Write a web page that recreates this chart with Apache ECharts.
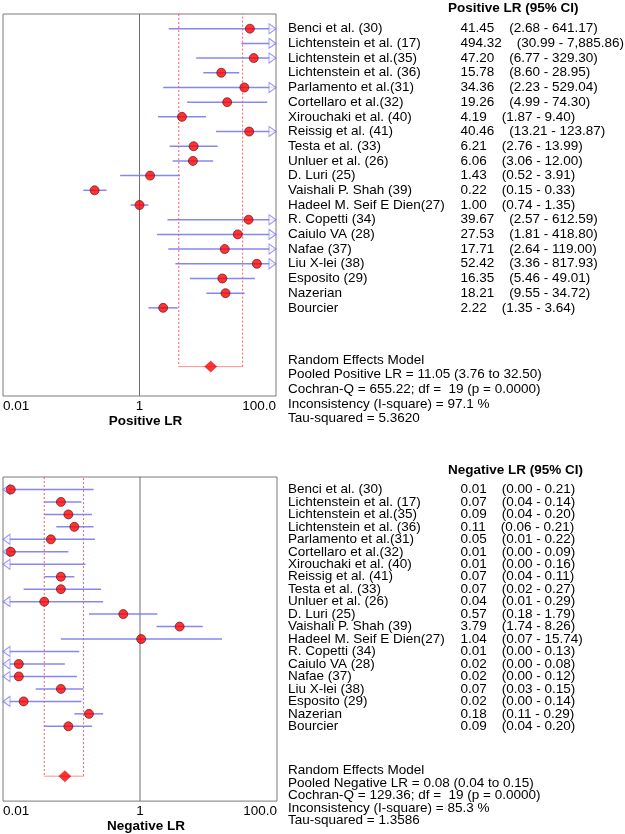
<!DOCTYPE html>
<html>
<head>
<meta charset="UTF-8">
<title>Forest plot</title>
<style>
	* { margin: 0; padding: 0; }
	html, body { width: 100%; height: 100%; background: #fff; overflow: hidden; }
	#chart { width: 625px; height: 834px; }
</style>
</head>
<body>
<div id="chart"></div>
<script src="https://cdn.jsdelivr.net/npm/echarts@6/dist/echarts.min.js"></script>
<script>
	var studies = ['Benci et al. (30)', 'Lichtenstein et al. (17)', 'Lichtenstein et al.(35)', 'Lichtenstein et al. (36)',
		'Parlamento et al.(31)', 'Cortellaro et al.(32)', 'Xirouchaki et al. (40)', 'Reissig et al. (41)',
		'Testa et al. (33)', 'Unluer et al. (26)', 'D. Luri (25)', 'Vaishali P. Shah (39)',
		'Hadeel M. Seif E Dien(27)', 'R. Copetti (34)', 'Caiulo VA (28)', 'Nafae (37)',
		'Liu X-lei (38)', 'Esposito (29)', 'Nazerian', 'Bourcier'];

	// positive LR
	var posLR = [41.45, 494.32, 47.20, 15.78, 34.36, 19.26, 4.19, 40.46, 6.21, 6.06, 1.43, 0.22, 1.00, 39.67, 27.53, 17.71, 52.42, 16.35, 18.21, 2.22];
	var posLow = [2.68, 30.99, 6.77, 8.60, 2.23, 4.99, 1.87, 13.21, 2.76, 3.06, 0.52, 0.15, 0.74, 2.57, 1.81, 2.64, 3.36, 5.46, 9.55, 1.35];
	var posHigh = [641.17, 7885.86, 329.30, 28.95, 529.04, 74.30, 9.40, 123.87, 13.99, 12.00, 3.91, 0.33, 1.35, 612.59, 418.80, 119.00, 817.93, 49.01, 34.72, 3.64];
	var posPooled = [11.05, 3.76, 32.50];
	var posStats = ['Random Effects Model', 'Pooled Positive LR = 11.05 (3.76 to 32.50)',
		'Cochran-Q = 655.22; df =  19 (p = 0.0000)', 'Inconsistency (I-square) = 97.1 %', 'Tau-squared = 5.3620'];

	// negative LR (values below 0.01 are off the axis)
	var negLR = [0.013, 0.07, 0.09, 0.11, 0.05, 0.013, 0.006, 0.07, 0.07, 0.04, 0.57, 3.79, 1.04, 0.006, 0.017, 0.017, 0.07, 0.02, 0.18, 0.09];
	var negLow = [0.004, 0.04, 0.04, 0.06, 0.006, 0.004, 0.004, 0.04, 0.02, 0.006, 0.18, 1.74, 0.07, 0.004, 0.004, 0.004, 0.03, 0.004, 0.11, 0.04];
	var negHigh = [0.21, 0.14, 0.20, 0.21, 0.22, 0.09, 0.16, 0.11, 0.27, 0.29, 1.79, 8.26, 15.74, 0.13, 0.08, 0.12, 0.15, 0.14, 0.29, 0.20];
	var negPooled = [0.08, 0.04, 0.15];
	var negStats = ['Random Effects Model', 'Pooled Negative LR = 0.08 (0.04 to 0.15)',
		'Cochran-Q = 129.36; df =  19 (p = 0.0000)', 'Inconsistency (I-square) = 85.3 %', 'Tau-squared = 1.3586'];

	var tickText = { '-2': '0.01', '0': '1', '2': '100.0' };

	var FONT = '13.5px "Liberation Sans", Arial, sans-serif';
	var BOLD = 'bold 13.5px "Liberation Sans", Arial, sans-serif';
	var ciColor = '#7a7af0';
	var XMIN = 0.01, XMAX = 100;
	var diamondRow = 23, statsRow = 22.55;

	function fmt(v) {
		return v.toLocaleString('en-US', { minimumFractionDigits: 2, maximumFractionDigits: 2 });
	}

	function clampX(v) {
		return Math.min(XMAX, Math.max(XMIN, v));
	}

	function panelSeries(g, est, low, high, pooled, stats) {
		var rows = studies.map(function(s, i) { return i; });
		var list = [];
		// vertical line at 1
		list.push({
			type: 'line', xAxisIndex: g, yAxisIndex: g, silent: true, symbol: 'none', z: 1,
			data: [[1, -1], [1, 25]],
			lineStyle: { color: '#6e6e6e', width: 1 }
		});
		// pooled CI box
		list.push({
			type: 'line', xAxisIndex: g, yAxisIndex: g, silent: true, symbol: 'none', z: 1,
			data: [[pooled[1], -1], [pooled[1], diamondRow], '-', [pooled[2], diamondRow], [pooled[2], -1]],
			lineStyle: { color: '#ff5a5a', width: 1, type: [2, 2] }
		});
		list.push({
			type: 'line', xAxisIndex: g, yAxisIndex: g, silent: true, symbol: 'none', z: 1,
			data: [[pooled[1], diamondRow], [pooled[2], diamondRow]],
			lineStyle: { color: '#ff8c8c', width: 1 }
		});
		// CI lines
		list.push({
			type: 'custom', xAxisIndex: g, yAxisIndex: g, silent: true, z: 2,
			encode: { x: [0, 1], y: 2 },
			data: rows.map(function(i) { return [low[i], high[i], i]; }),
			renderItem: function(params, api) {
				var i = params.dataIndex;
				var p1 = api.coord([clampX(low[i]), i]);
				var p2 = api.coord([clampX(high[i]), i]);
				return {
					type: 'line',
					shape: { x1: p1[0], y1: p1[1], x2: p2[0], y2: p2[1] },
					style: { stroke: ciColor, lineWidth: 1.5, opacity: 0.9 }
				};
			}
		});
		// arrows for intervals beyond the axis
		list.push({
			type: 'scatter', xAxisIndex: g, yAxisIndex: g, silent: true, z: 3,
			data: rows.filter(function(i) { return high[i] > XMAX; }).map(function(i) { return [XMAX, i]; }),
			symbol: 'path://M0,0 L7,5 L0,10 Z', symbolSize: [7, 10], symbolOffset: [-3.5, 0],
			itemStyle: { color: '#fff', borderColor: ciColor, borderWidth: 1 }
		});
		list.push({
			type: 'scatter', xAxisIndex: g, yAxisIndex: g, silent: true, z: 3,
			data: rows.filter(function(i) { return low[i] < XMIN; }).map(function(i) { return [XMIN, i]; }),
			symbol: 'path://M7,0 L0,5 L7,10 Z', symbolSize: [7, 10], symbolOffset: [3.5, 0],
			itemStyle: { color: '#fff', borderColor: ciColor, borderWidth: 1 }
		});
		// point estimates
		list.push({
			type: 'scatter', xAxisIndex: g, yAxisIndex: g, silent: true, z: 4,
			data: rows.filter(function(i) { return est[i] >= XMIN && est[i] <= XMAX; }).map(function(i) { return [est[i], i]; }),
			symbol: 'circle', symbolSize: 9,
			itemStyle: { color: '#ff0000', borderColor: '#4a1010', borderWidth: 0.8 }
		});
		// pooled diamond
		list.push({
			type: 'scatter', xAxisIndex: g, yAxisIndex: g, silent: true, z: 4,
			data: [[pooled[0], diamondRow]],
			symbol: 'diamond', symbolSize: [12, 11],
			itemStyle: { color: '#ff0000', borderColor: '#b00000', borderWidth: 0.5 }
		});
		// study text on the right
		list.push({
			type: 'custom', xAxisIndex: g, yAxisIndex: g, silent: true, z: 5,
			encode: { x: 0, y: 1 },
			data: rows.map(function(i) { return [1, i]; }),
			renderItem: function(params, api) {
				var i = params.dataIndex;
				var y = api.coord([1, i])[1];
				return {
					type: 'group',
					children: [{
						type: 'text',
						style: { text: studies[i], x: 288, y: y, font: FONT, fill: '#000', verticalAlign: 'middle' }
					}, {
						type: 'text',
						style: { text: fmt(est[i]) + '    (' + fmt(low[i]) + ' - ' + fmt(high[i]) + ')', x: 460.5, y: y, font: FONT, fill: '#000', verticalAlign: 'middle' }
					}]
				};
			}
		});
		// summary statistics
		list.push({
			type: 'custom', xAxisIndex: g, yAxisIndex: g, silent: true, z: 5,
			encode: { x: 0, y: 1 },
			data: stats.map(function(s, k) { return [1, statsRow + k]; }),
			renderItem: function(params, api) {
				var k = params.dataIndex;
				var y = api.coord([1, statsRow + k])[1];
				return {
					type: 'text',
					style: { text: stats[k], x: 288, y: y, font: FONT, fill: '#000', verticalAlign: 'middle' }
				};
			}
		});
		return list;
	}

	function xAxisFor(g, name) {
		return {
			type: 'log', logBase: 10, gridIndex: g, min: XMIN, max: XMAX,
			axisLine: { show: false }, axisTick: { show: false }, splitLine: { show: false },
			axisLabel: {
				color: '#000', fontSize: 13.5, fontFamily: '"Liberation Sans", Arial, sans-serif', margin: 3,
				showMinLabel: true, showMaxLabel: true,
				alignMinLabel: 'left', alignMaxLabel: 'right',
				formatter: function(v) {
					var e = Math.round(Math.log(v) / Math.LN10);
					return tickText[String(e)] || '';
				}
			},
			name: name, nameLocation: 'middle', nameGap: 17,
			nameTextStyle: { color: '#000', fontWeight: 'bold', fontSize: 13.5, fontFamily: '"Liberation Sans", Arial, sans-serif', padding: [0, 0, 0, 12] }
		};
	}

	var chart = echarts.init(document.getElementById('chart'));
	var option = {
		backgroundColor: '#fff',
		animation: false,
		grid: [
			{ left: 2, top: 14, width: 274, height: 382, show: true, borderColor: '#7a7a7a', borderWidth: 1, backgroundColor: 'transparent' },
			{ left: 2, top: 477, width: 275, height: 329, show: true, borderColor: '#7a7a7a', borderWidth: 1, backgroundColor: 'transparent' }
		],
		xAxis: [xAxisFor(0, 'Positive LR'), xAxisFor(1, 'Negative LR')],
		yAxis: [
			{ type: 'value', gridIndex: 0, inverse: true, min: -1, max: 25, show: false },
			{ type: 'value', gridIndex: 1, inverse: true, min: -1, max: 25, show: false }
		],
		graphic: [
			{ type: 'text', x: 448, y: 8, style: { text: 'Positive LR (95% CI)', font: BOLD, fill: '#000', verticalAlign: 'middle' } },
			{ type: 'text', x: 448, y: 470, style: { text: 'Negative LR (95% CI)', font: BOLD, fill: '#000', verticalAlign: 'middle' } }
		],
		series: panelSeries(0, posLR, posLow, posHigh, posPooled, posStats)
			.concat(panelSeries(1, negLR, negLow, negHigh, negPooled, negStats))
	};
	chart.setOption(option);
</script>
</body>
</html>
